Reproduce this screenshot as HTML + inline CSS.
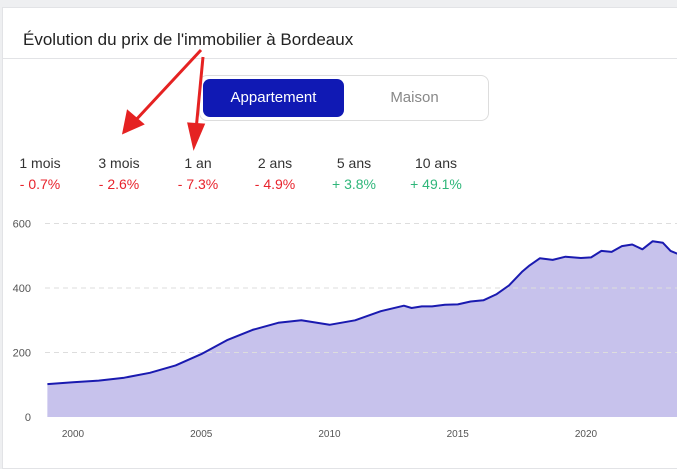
<!DOCTYPE html>
<html><head><meta charset="utf-8"><style>
body{margin:0;width:677px;height:457px;background:#eeeff1;font-family:"Liberation Sans",sans-serif;overflow:hidden;position:relative}
.card{position:absolute;left:2px;top:7px;width:680px;height:460px;background:#fff;border:1px solid #e2e3e6}
.title{position:absolute;left:20px;top:22px;font-size:17px;color:#222}
.div{position:absolute;left:0;top:50px;width:100%;height:1px;background:#e2e3e6}
.tog{position:absolute;left:196px;top:67px;width:288px;height:44px;border:1px solid #ddd;border-radius:8px}
.act{position:absolute;left:3px;top:3px;width:141px;height:38px;background:#1019b4;border-radius:7px;color:#fff;font-size:15px;text-align:center;line-height:38px}
.ina{position:absolute;left:144px;top:3px;width:141px;height:38px;color:#888;font-size:15px;text-align:center;line-height:38px}
.st{position:absolute;top:155px;font-size:14px;text-align:center;width:70px;color:#333}
.st .v{margin-top:5px}
.neg{color:#e8232c}.pos{color:#2fb67a}
</style></head><body>
<div class="card">
<div class="title">Évolution du prix de l'immobilier à Bordeaux</div>
<div class="div"></div>
<div class="tog">
<div class="act">Appartement</div>
<div class="ina">Maison</div>
</div>
</div>
<div class="st" style="left:5px"><div>1 mois</div><div class="v neg">- 0.7%</div></div>
<div class="st" style="left:84px"><div>3 mois</div><div class="v neg">- 2.6%</div></div>
<div class="st" style="left:163px"><div>1 an</div><div class="v neg">- 7.3%</div></div>
<div class="st" style="left:240px"><div>2 ans</div><div class="v neg">- 4.9%</div></div>
<div class="st" style="left:319px"><div>5 ans</div><div class="v pos">+ 3.8%</div></div>
<div class="st" style="left:401px"><div>10 ans</div><div class="v pos">+ 49.1%</div></div>
<svg width="677" height="457" style="position:absolute;left:0;top:0" id="svg">
<g stroke="#e52222" stroke-width="3" fill="#e52222">
<line x1="201" y1="50" x2="134" y2="122"/><polygon points="124,132 128,112 142,124"/>
<line x1="203" y1="57" x2="196" y2="130"/><polygon points="194,146 189,124 203,125"/>
</g>
</svg>
<script>
const years=[1999,2000,2001,2002,2003,2004,2005,2006,2007,2008,2008.9,2010,2011,2012,2012.9,2013.2,2013.6,2014,2014.5,2015,2015.5,2016,2016.5,2017,2017.5,2017.8,2018.2,2018.7,2019.2,2019.8,2020.2,2020.6,2021,2021.4,2021.8,2022.2,2022.6,2023,2023.3,2023.6];
const prices=[102,108,113,122,137,160,195,238,270,292,300,286,300,328,345,338,343,343,348,349,358,362,380,408,450,470,492,487,497,493,495,515,512,530,535,520,545,540,515,505];
const yTicks=[0,200,400,600];
const xTicks=[2000,2005,2010,2015,2020];
const NS="http://www.w3.org/2000/svg";
const svg=document.getElementById('svg');
const X=y=>73+(y-2000)*25.65;
const Y=v=>417-v*0.3225;
function mk(t,a){const e=document.createElementNS(NS,t);for(const k in a)e.setAttribute(k,a[k]);svg.insertBefore(e,svg.firstChild.nextSibling);return e;}
yTicks.forEach(v=>{
 if(v>0){const l=mk('line',{x1:45,x2:677,y1:Y(v),y2:Y(v),stroke:'#ddd','stroke-dasharray':'5,4'});
 
 }
 const t=mk('text',{x:31,y:Y(v)+4,'text-anchor':'end','font-size':'11',fill:'#555'});t.textContent=v;
 
 
});
xTicks.forEach(v=>{const t=mk('text',{x:X(v),y:437,'text-anchor':'middle','font-size':'10',fill:'#555'});t.textContent=v;
 
 });
let d=years.map((y,i)=>(i?'L':'M')+X(y).toFixed(1)+','+Y(prices[i]).toFixed(1)).join(' ');
const area=mk('path',{d:d+' L'+X(years[years.length-1])+',417 L'+X(years[0])+',417 Z',fill:'#c7c2ec'});


const line=mk('path',{d:d,fill:'none',stroke:'#1a1ab0','stroke-width':'2','stroke-linejoin':'round'});


svg.appendChild(line);
</script>
</body></html>
